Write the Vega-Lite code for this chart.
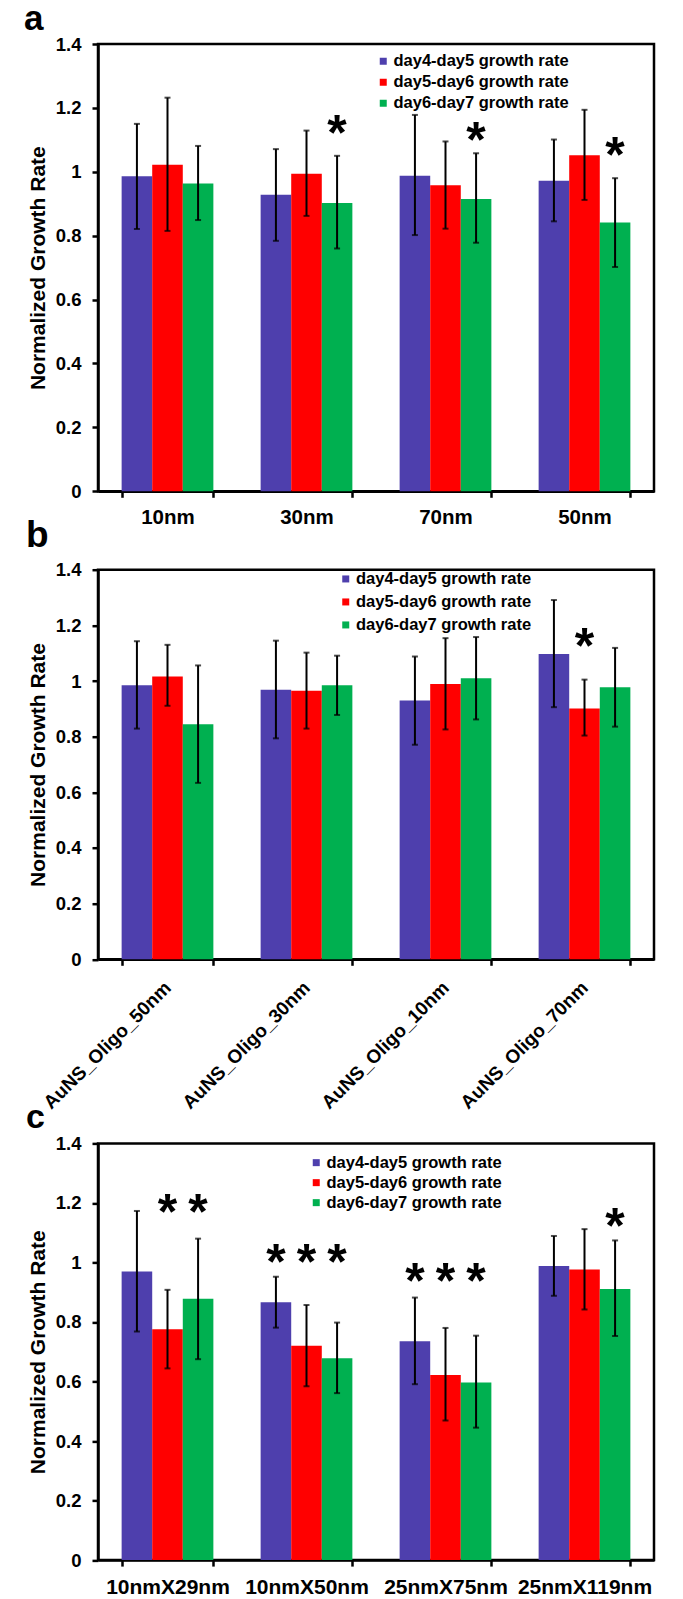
{
  "$schema": "https://vega.github.io/schema/vega-lite/v6.json",
  "background": "white",
  "padding": {"left": 22, "top": 0, "right": 5, "bottom": 5},
  "spacing": -14.3,
  "config": {
    "font": "Liberation Sans",
    "view": {"stroke": "black", "strokeWidth": 2.5},
    "axis": {
      "domainColor": "black", "domainWidth": 2.5, "tickColor": "black", "tickWidth": 2.5, "tickSize": 6,
      "labelColor": "black", "labelFontWeight": "bold", "labelFont": "Liberation Sans",
      "titleColor": "black", "titleFontWeight": "bold", "titleFont": "Liberation Sans", "grid": false
    },
    "axisY": {"labelFontSize": 18.5, "labelPadding": 11, "titleFontSize": 21, "titlePadding": 7},
    "axisX": {"labelFontSize": 20.5, "labelPadding": 10.5},
    "legend": {"padding": 0, "labelFont": "Liberation Sans", "labelFontWeight": "bold", "labelFontSize": 16.5, "labelColor": "black", "labelLimit": 400, "symbolType": "square", "symbolSize": 49, "symbolStrokeWidth": 0, "labelOffset": 2},
    "title": {"font": "Liberation Sans", "fontWeight": "bold", "color": "black", "anchor": "start", "frame": "group"}
  },
  "datasets": {
    "a": [
      {"cat": "10nm", "series": "day4-day5 growth rate", "value": 0.986, "lo": 0.821, "hi": 1.150},
      {"cat": "10nm", "series": "day5-day6 growth rate", "value": 1.022, "lo": 0.815, "hi": 1.232},
      {"cat": "10nm", "series": "day6-day7 growth rate", "value": 0.963, "lo": 0.849, "hi": 1.081},
      {"cat": "30nm", "series": "day4-day5 growth rate", "value": 0.928, "lo": 0.784, "hi": 1.071},
      {"cat": "30nm", "series": "day5-day6 growth rate", "value": 0.994, "lo": 0.862, "hi": 1.129},
      {"cat": "30nm", "series": "day6-day7 growth rate", "value": 0.902, "lo": 0.760, "hi": 1.050},
      {"cat": "70nm", "series": "day4-day5 growth rate", "value": 0.988, "lo": 0.802, "hi": 1.178},
      {"cat": "70nm", "series": "day5-day6 growth rate", "value": 0.958, "lo": 0.822, "hi": 1.095},
      {"cat": "70nm", "series": "day6-day7 growth rate", "value": 0.915, "lo": 0.778, "hi": 1.058},
      {"cat": "50nm", "series": "day4-day5 growth rate", "value": 0.972, "lo": 0.845, "hi": 1.101},
      {"cat": "50nm", "series": "day5-day6 growth rate", "value": 1.052, "lo": 0.912, "hi": 1.194},
      {"cat": "50nm", "series": "day6-day7 growth rate", "value": 0.841, "lo": 0.702, "hi": 0.980}
    ],
    "a_stars": [
      {"cat": "30nm", "series": "day6-day7 growth rate", "star": 1.147},
      {"cat": "70nm", "series": "day6-day7 growth rate", "star": 1.126},
      {"cat": "50nm", "series": "day6-day7 growth rate", "star": 1.079}
    ],
    "b": [
      {"cat": "AuNS_Oligo_50nm", "series": "day4-day5 growth rate", "value": 0.985, "lo": 0.829, "hi": 1.143},
      {"cat": "AuNS_Oligo_50nm", "series": "day5-day6 growth rate", "value": 1.016, "lo": 0.911, "hi": 1.130},
      {"cat": "AuNS_Oligo_50nm", "series": "day6-day7 growth rate", "value": 0.845, "lo": 0.634, "hi": 1.056},
      {"cat": "AuNS_Oligo_30nm", "series": "day4-day5 growth rate", "value": 0.969, "lo": 0.794, "hi": 1.145},
      {"cat": "AuNS_Oligo_30nm", "series": "day5-day6 growth rate", "value": 0.965, "lo": 0.829, "hi": 1.102},
      {"cat": "AuNS_Oligo_30nm", "series": "day6-day7 growth rate", "value": 0.985, "lo": 0.878, "hi": 1.091},
      {"cat": "AuNS_Oligo_10nm", "series": "day4-day5 growth rate", "value": 0.930, "lo": 0.771, "hi": 1.088},
      {"cat": "AuNS_Oligo_10nm", "series": "day5-day6 growth rate", "value": 0.989, "lo": 0.826, "hi": 1.154},
      {"cat": "AuNS_Oligo_10nm", "series": "day6-day7 growth rate", "value": 1.010, "lo": 0.862, "hi": 1.158},
      {"cat": "AuNS_Oligo_70nm", "series": "day4-day5 growth rate", "value": 1.097, "lo": 0.906, "hi": 1.291},
      {"cat": "AuNS_Oligo_70nm", "series": "day5-day6 growth rate", "value": 0.901, "lo": 0.804, "hi": 1.005},
      {"cat": "AuNS_Oligo_70nm", "series": "day6-day7 growth rate", "value": 0.978, "lo": 0.836, "hi": 1.119}
    ],
    "b_stars": [
      {"cat": "AuNS_Oligo_70nm", "series": "day5-day6 growth rate", "star": 1.155}
    ],
    "c": [
      {"cat": "10nmX29nm", "series": "day4-day5 growth rate", "value": 0.970, "lo": 0.768, "hi": 1.173},
      {"cat": "10nmX29nm", "series": "day5-day6 growth rate", "value": 0.776, "lo": 0.644, "hi": 0.908},
      {"cat": "10nmX29nm", "series": "day6-day7 growth rate", "value": 0.878, "lo": 0.675, "hi": 1.080},
      {"cat": "10nmX50nm", "series": "day4-day5 growth rate", "value": 0.866, "lo": 0.781, "hi": 0.952},
      {"cat": "10nmX50nm", "series": "day5-day6 growth rate", "value": 0.720, "lo": 0.584, "hi": 0.857},
      {"cat": "10nmX50nm", "series": "day6-day7 growth rate", "value": 0.678, "lo": 0.561, "hi": 0.798},
      {"cat": "25nmX75nm", "series": "day4-day5 growth rate", "value": 0.735, "lo": 0.591, "hi": 0.882},
      {"cat": "25nmX75nm", "series": "day5-day6 growth rate", "value": 0.622, "lo": 0.469, "hi": 0.780},
      {"cat": "25nmX75nm", "series": "day6-day7 growth rate", "value": 0.597, "lo": 0.445, "hi": 0.754},
      {"cat": "25nmX119nm", "series": "day4-day5 growth rate", "value": 0.988, "lo": 0.888, "hi": 1.089},
      {"cat": "25nmX119nm", "series": "day5-day6 growth rate", "value": 0.976, "lo": 0.842, "hi": 1.112},
      {"cat": "25nmX119nm", "series": "day6-day7 growth rate", "value": 0.911, "lo": 0.753, "hi": 1.074}
    ],
    "c_stars": [
      {"cat": "10nmX29nm", "series": "day5-day6 growth rate", "star": 1.196},
      {"cat": "10nmX29nm", "series": "day6-day7 growth rate", "star": 1.196},
      {"cat": "10nmX50nm", "series": "day4-day5 growth rate", "star": 1.030},
      {"cat": "10nmX50nm", "series": "day5-day6 growth rate", "star": 1.030},
      {"cat": "10nmX50nm", "series": "day6-day7 growth rate", "star": 1.030},
      {"cat": "25nmX75nm", "series": "day4-day5 growth rate", "star": 0.966},
      {"cat": "25nmX75nm", "series": "day5-day6 growth rate", "star": 0.966},
      {"cat": "25nmX75nm", "series": "day6-day7 growth rate", "star": 0.966},
      {"cat": "25nmX119nm", "series": "day6-day7 growth rate", "star": 1.150}
    ]
  },
  "vconcat": [
    {
      "width": 556, "height": 447.3,
      "title": {"text": "a", "fontSize": 35, "dx": -74, "offset": -30, "baseline": "alphabetic"},
      "encoding": {
        "x": {"field": "cat", "type": "nominal", "sort": ["10nm", "30nm", "70nm", "50nm"], "scale": {"paddingInner": 0.34, "paddingOuter": 0.17}, "axis": {"title": null, "labelAngle": 0, "tickBand": "extent"}},
        "xOffset": {"field": "series", "type": "nominal", "scale": {"paddingInner": 0, "paddingOuter": 0}},
        "y": {"type": "quantitative", "scale": {"domain": [0, 1.4], "nice": false}, "axis": {"title": "Normalized Growth Rate", "values": [0, 0.2, 0.4, 0.6, 0.8, 1, 1.2, 1.4], "format": "~g"}}
      },
      "layer": [
        {"data": {"name": "a"}, "mark": {"type": "bar"}, "encoding": {"y": {"field": "value"}, "color": {"field": "series", "type": "nominal", "scale": {"domain": ["day4-day5 growth rate", "day5-day6 growth rate", "day6-day7 growth rate"], "range": ["#4E3FAD", "#FF0000", "#00B050"]}, "legend": {"title": null, "orient": "none", "legendX": 277, "legendY": 9, "rowPadding": 4}}}},
        {"data": {"name": "a"}, "mark": {"type": "rule", "color": "black", "strokeWidth": 2}, "encoding": {"y": {"field": "lo"}, "y2": {"field": "hi"}}},
        {"data": {"name": "a"}, "mark": {"type": "tick", "color": "black", "orient": "horizontal", "size": 6, "thickness": 2}, "encoding": {"y": {"field": "lo"}}},
        {"data": {"name": "a"}, "mark": {"type": "tick", "color": "black", "orient": "horizontal", "size": 6, "thickness": 2}, "encoding": {"y": {"field": "hi"}}},
        {"data": {"name": "a_stars"}, "mark": {"type": "text", "text": "*", "fontSize": 50, "fontWeight": "bold", "color": "black", "baseline": "alphabetic", "dy": 25}, "encoding": {"y": {"field": "star"}}}
      ]
    },
    {
      "width": 556, "height": 389.6,
      "title": {"text": "b", "fontSize": 37, "dx": -72, "offset": -23.7, "baseline": "alphabetic"},
      "encoding": {
        "x": {"field": "cat", "type": "nominal", "sort": ["AuNS_Oligo_50nm", "AuNS_Oligo_30nm", "AuNS_Oligo_10nm", "AuNS_Oligo_70nm"], "scale": {"paddingInner": 0.34, "paddingOuter": 0.17}, "axis": {"title": null, "labelAngle": -45, "labelAlign": "right", "labelBaseline": "middle", "labelFontSize": 19, "labelPadding": 19, "tickBand": "extent"}},
        "xOffset": {"field": "series", "type": "nominal", "scale": {"paddingInner": 0, "paddingOuter": 0}},
        "y": {"type": "quantitative", "scale": {"domain": [0, 1.4], "nice": false}, "axis": {"title": "Normalized Growth Rate", "values": [0, 0.2, 0.4, 0.6, 0.8, 1, 1.2, 1.4], "format": "~g"}}
      },
      "layer": [
        {"data": {"name": "b"}, "mark": {"type": "bar"}, "encoding": {"y": {"field": "value"}, "color": {"field": "series", "type": "nominal", "scale": {"domain": ["day4-day5 growth rate", "day5-day6 growth rate", "day6-day7 growth rate"], "range": ["#4E3FAD", "#FF0000", "#00B050"]}, "legend": {"title": null, "orient": "none", "legendX": 239.5, "legendY": 1, "rowPadding": 6}}}},
        {"data": {"name": "b"}, "mark": {"type": "rule", "color": "black", "strokeWidth": 2}, "encoding": {"y": {"field": "lo"}, "y2": {"field": "hi"}}},
        {"data": {"name": "b"}, "mark": {"type": "tick", "color": "black", "orient": "horizontal", "size": 6, "thickness": 2}, "encoding": {"y": {"field": "lo"}}},
        {"data": {"name": "b"}, "mark": {"type": "tick", "color": "black", "orient": "horizontal", "size": 6, "thickness": 2}, "encoding": {"y": {"field": "hi"}}},
        {"data": {"name": "b_stars"}, "mark": {"type": "text", "text": "*", "fontSize": 50, "fontWeight": "bold", "color": "black", "baseline": "alphabetic", "dy": 25}, "encoding": {"y": {"field": "star"}}}
      ]
    },
    {
      "width": 556, "height": 416.7,
      "title": {"text": "c", "fontSize": 34, "dx": -72, "offset": -27.7, "baseline": "alphabetic"},
      "encoding": {
        "x": {"field": "cat", "type": "nominal", "sort": ["10nmX29nm", "10nmX50nm", "25nmX75nm", "25nmX119nm"], "scale": {"paddingInner": 0.34, "paddingOuter": 0.17}, "axis": {"title": null, "labelAngle": 0, "labelFontSize": 21, "tickBand": "extent"}},
        "xOffset": {"field": "series", "type": "nominal", "scale": {"paddingInner": 0, "paddingOuter": 0}},
        "y": {"type": "quantitative", "scale": {"domain": [0, 1.4], "nice": false}, "axis": {"title": "Normalized Growth Rate", "values": [0, 0.2, 0.4, 0.6, 0.8, 1, 1.2, 1.4], "format": "~g"}}
      },
      "layer": [
        {"data": {"name": "c"}, "mark": {"type": "bar"}, "encoding": {"y": {"field": "value"}, "color": {"field": "series", "type": "nominal", "scale": {"domain": ["day4-day5 growth rate", "day5-day6 growth rate", "day6-day7 growth rate"], "range": ["#4E3FAD", "#FF0000", "#00B050"]}, "legend": {"title": null, "orient": "none", "legendX": 210, "legendY": 11, "rowPadding": 3}}}},
        {"data": {"name": "c"}, "mark": {"type": "rule", "color": "black", "strokeWidth": 2}, "encoding": {"y": {"field": "lo"}, "y2": {"field": "hi"}}},
        {"data": {"name": "c"}, "mark": {"type": "tick", "color": "black", "orient": "horizontal", "size": 6, "thickness": 2}, "encoding": {"y": {"field": "lo"}}},
        {"data": {"name": "c"}, "mark": {"type": "tick", "color": "black", "orient": "horizontal", "size": 6, "thickness": 2}, "encoding": {"y": {"field": "hi"}}},
        {"data": {"name": "c_stars"}, "mark": {"type": "text", "text": "*", "fontSize": 50, "fontWeight": "bold", "color": "black", "baseline": "alphabetic", "dy": 25}, "encoding": {"y": {"field": "star"}}}
      ]
    }
  ],
  "resolve": {"scale": {"color": "independent"}}
}
